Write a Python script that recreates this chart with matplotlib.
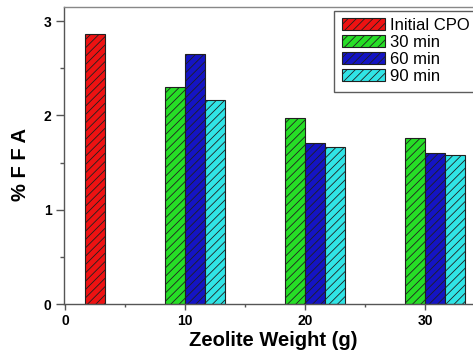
import matplotlib
matplotlib.use("Agg")
import matplotlib.pyplot as plt
import numpy as np

plt.rcParams['font.family'] = ['Liberation Sans', 'DejaVu Sans']
plt.rcParams['hatch.linewidth'] = 0.6

# data
weights = [0, 10, 20, 30]
series = ["Initial CPO", "30 min", "60 min", "90 min"]
initial_cpo = [2.86]
ffa_30 = [2.30, 1.97, 1.76]
ffa_60 = [2.65, 1.71, 1.60]
ffa_90 = [2.16, 1.67, 1.58]
colors = ['#ee1212', '#26de26', '#1414c4', '#30e4e6']

fig = plt.figure(figsize=(4.73, 3.54), dpi=100)
ax = fig.add_axes([64 / 473, 50 / 354, 427 / 473, 297 / 354])

w = 1.67
# slot offsets inside a group (Origin style grouping)
offsets = {"30 min": -0.5 * w, "60 min": 0.5 * w, "90 min": 1.5 * w, "Initial CPO": 1.5 * w}

bar_kw = dict(width=w, edgecolor='#202020', linewidth=0.8, hatch='////')
ax.bar(np.array(weights[:1]) + offsets["Initial CPO"], initial_cpo, color=colors[0], label=series[0], **bar_kw)
ax.bar(np.array(weights[1:]) + offsets["30 min"], ffa_30, color=colors[1], label=series[1], **bar_kw)
ax.bar(np.array(weights[1:]) + offsets["60 min"], ffa_60, color=colors[2], label=series[2], **bar_kw)
ax.bar(np.array(weights[1:]) + offsets["90 min"], ffa_90, color=colors[3], label=series[3], **bar_kw)

ax.set_xlim(-0.1, 35.5)
ax.set_ylim(0, 3.15)
ax.set_xticks([0, 10, 20, 30])
ax.set_xticks([5, 15, 25], minor=True)
ax.set_yticks([0, 1, 2, 3])
ax.set_yticks([0.5, 1.5, 2.5], minor=True)

ax.tick_params(axis='y', which='major', length=6, width=1, color='#555555', pad=3)
ax.tick_params(axis='y', which='minor', length=3, width=1, color='#555555')
ax.tick_params(axis='x', which='major', length=4, width=1, color='#555555', pad=3)
ax.tick_params(axis='x', which='minor', length=2, width=1, color='#555555')
for lab in ax.get_xticklabels() + ax.get_yticklabels():
    lab.set_fontweight('bold')
    lab.set_fontsize(10)

for s in ['left', 'bottom']:
    ax.spines[s].set_color('#555555')
    ax.spines[s].set_linewidth(1.0)
ax.spines['top'].set_color('#888888')
ax.spines['top'].set_linewidth(1.0)
ax.spines['right'].set_color('#888888')

ax.set_xlabel('Zeolite Weight (g)', fontsize=14.5, fontweight='bold', va='center')
ax.xaxis.set_label_coords(0.49, -0.122)
ax.set_ylabel('% F F A', fontsize=14.5, fontweight='bold', va='center')
ax.yaxis.set_label_coords(-0.101, 0.47)

leg = ax.legend(loc='upper left', bbox_to_anchor=(334 / 473, 1 - 10.7 / 354),
                bbox_transform=fig.transFigure, fontsize=12, frameon=True,
                fancybox=False, borderpad=0.45, handlelength=2.6, handleheight=0.72,
                handletextpad=0.3, labelspacing=0.12, borderaxespad=0)
leg.get_frame().set_edgecolor('#333333')
leg.get_frame().set_linewidth(1.0)

fig.savefig('out.png', dpi=100)
